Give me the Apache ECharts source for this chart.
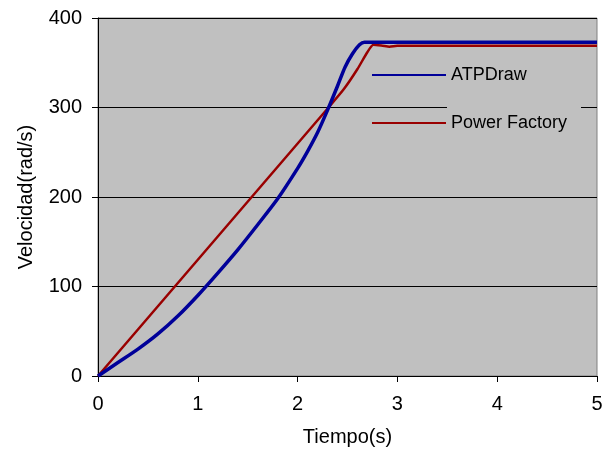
<!DOCTYPE html>
<html>
<head>
<meta charset="utf-8">
<script src="https://cdn.jsdelivr.net/npm/echarts@6/dist/echarts.min.js"></script>
<style>
html,body{margin:0;padding:0;background:#fff;}
#chart{width:609px;height:457px;}
</style>
</head>
<body>
<div id="chart"></div>
<script>
// Data
const seriesNames = ['ATPDraw', 'Power Factory'];
const atpTime  = [0, 0.2, 0.4, 0.6, 0.8, 1.0, 1.2, 1.4, 1.6, 1.8, 2.0, 2.1, 2.2, 2.3, 2.4, 2.475, 2.55, 2.62, 2.67, 2.75, 3.0, 4.0, 5.0];
const atpSpeed = [0, 15, 30, 47, 67, 90, 115, 141, 169, 198, 232, 251, 272, 297, 324, 345, 360, 370, 373, 373, 373, 373, 373];
const pfTime   = [0, 0.77, 1.54, 2.31, 2.46, 2.6, 2.7, 2.76, 2.85, 2.92, 3.0, 4.0, 5.0];
const pfSpeed  = [0, 100, 200, 300, 320, 343, 362, 370, 369, 368, 369, 369, 369];
const xTicks = [0, 1, 2, 3, 4, 5];
const yTicks = [0, 100, 200, 300, 400];
const xTitle = 'Tiempo(s)';
const yTitle = 'Velocidad(rad/s)';

const pairs = (xs, ys) => xs.map((x, i) => [x, ys[i]]);
const FONT = 'Liberation Sans, Arial, sans-serif';

const chart = echarts.init(document.getElementById('chart'), null, {renderer: 'canvas'});
chart.setOption({
  animation: false,
  backgroundColor: '#ffffff',
  grid: {
    left: 98, right: 12, top: 18, bottom: 81,
    show: true, backgroundColor: '#c0c0c0', borderColor: '#808080', borderWidth: 1
  },
  legend: {
    data: seriesNames,
    orient: 'vertical',
    left: 367, top: 61,
    itemWidth: 74, itemHeight: 18, itemGap: 30,
    icon: 'path://M0,9 L74,9 L74,11 L0,11 Z',
    textStyle: {fontFamily: FONT, fontSize: 18, color: '#000'}
  },
  xAxis: {
    type: 'value', min: xTicks[0], max: xTicks[xTicks.length - 1], interval: 1,
    name: xTitle, nameLocation: 'middle', nameGap: 51,
    nameTextStyle: {fontFamily: FONT, fontSize: 20, color: '#000'},
    axisLine: {show: true, lineStyle: {color: '#000', width: 1}},
    axisTick: {show: true, length: 6, inside: false, lineStyle: {color: '#000'}},
    axisLabel: {fontFamily: FONT, fontSize: 20, color: '#000', margin: 18},
    splitLine: {show: false}
  },
  yAxis: {
    type: 'value', min: yTicks[0], max: yTicks[yTicks.length - 1], interval: 100,
    name: yTitle, nameLocation: 'middle', nameGap: 62, nameRotate: 90,
    nameTextStyle: {fontFamily: FONT, fontSize: 20, color: '#000'},
    axisLine: {show: true, lineStyle: {color: '#000', width: 1}},
    axisTick: {show: true, length: 6, inside: false, lineStyle: {color: '#000'}},
    axisLabel: {fontFamily: FONT, fontSize: 20, color: '#000', margin: 16},
    splitLine: {show: true, lineStyle: {color: '#000', width: 1}}
  },
  graphic: [{
    type: 'rect', z: 3, silent: true,
    shape: {x: 447, y: 105, width: 134, height: 4},
    style: {fill: 'rgb(192,192,192)', stroke: 'rgb(192,192,192)', lineWidth: 0, opacity: 1}
  }],
  series: [
    {
      name: seriesNames[0], type: 'line', z: 3,
      data: pairs(atpTime, atpSpeed),
      symbol: 'none', smooth: 0.25,
      lineStyle: {color: '#000099', width: 3.5},
      itemStyle: {color: '#000099'}
    },
    {
      name: seriesNames[1], type: 'line', z: 2,
      data: pairs(pfTime, pfSpeed),
      symbol: 'none', smooth: 0.2,
      lineStyle: {color: '#990000', width: 2.5},
      itemStyle: {color: '#990000'}
    }
  ]
});
</script>
</body>
</html>
